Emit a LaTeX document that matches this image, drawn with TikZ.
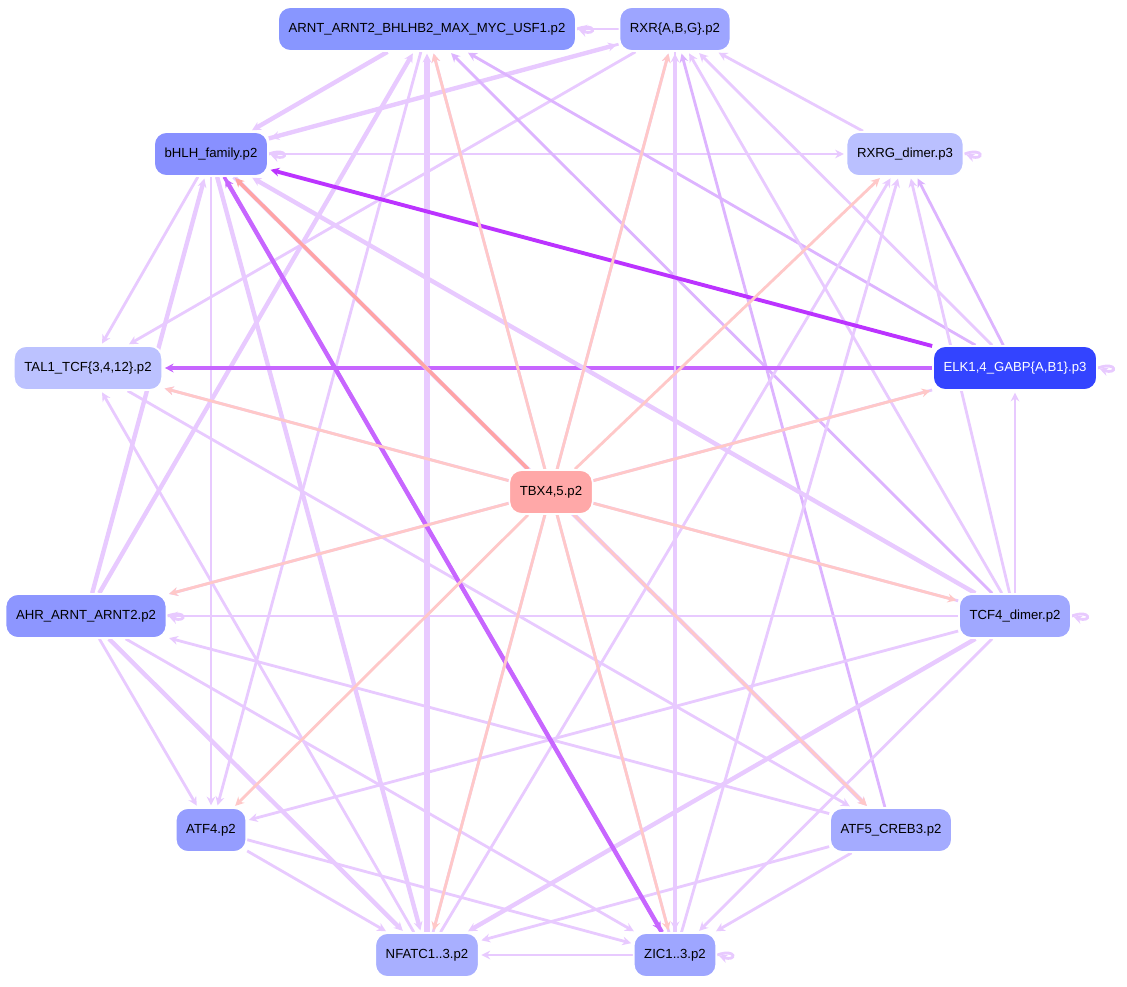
\documentclass[tikz,border=0pt]{standalone}
\usepackage{fontspec}
\setmainfont{Liberation Sans}
\usetikzlibrary{arrows.meta}
\begin{document}
\begin{tikzpicture}[x=0.02cm,y=-0.02cm,
 n/.style={rounded corners=7pt,draw=white,line width=1pt,minimum height=25pt,font=\fontsize{7.5}{9}\selectfont,inner xsep=6pt},
 e/.style={draw=#1,line width=1.6pt,-{Stealth[length=5pt,width=5pt]},shorten >=1pt},
 e/.default={lp},
 t/.style={e=pk},
 loop/.style={e=lp,looseness=6,min distance=12pt}]
\definecolor{lp}{HTML}{E8CAFF}
\definecolor{lq}{HTML}{DDB4FF}
\definecolor{pk}{HTML}{FFC8C8}
\definecolor{pd}{HTML}{FFA4A4}
\definecolor{dp}{HTML}{BB33FF}
\definecolor{mp}{HTML}{C766FF}
\useasboundingbox (0,0) rectangle (1127,987);
\node[n,fill={rgb,255:red,136;green,150;blue,255}] (arnt) at (427,29) {ARNT\_ARNT2\_BHLHB2\_MAX\_MYC\_USF1.p2};
\node[n,fill={rgb,255:red,157;green,165;blue,255}] (rxr) at (675,29) {RXR\{A,B,G\}.p2};
\node[n,fill={rgb,255:red,136;green,144;blue,255}] (bhlh) at (211,154) {bHLH\_family.p2};
\node[n,fill={rgb,255:red,186;green,192;blue,255}] (rxrg) at (905,154) {RXRG\_dimer.p3};
\node[n,fill={rgb,255:red,188;green,194;blue,255}] (tal) at (88,368) {TAL1\_TCF\{3,4,12\}.p2};
\node[n,fill={rgb,255:red,51;green,68;blue,255},text=white] (elk) at (1015,368) {ELK1,4\_GABP\{A,B1\}.p3};
\node[n,fill={rgb,255:red,255;green,168;blue,168}] (tbx) at (551,492) {TBX4,5.p2};
\node[n,fill={rgb,255:red,141;green,150;blue,255}] (ahr) at (86,616) {AHR\_ARNT\_ARNT2.p2};
\node[n,fill={rgb,255:red,160;green,168;blue,255}] (tcf) at (1015,616) {TCF4\_dimer.p2};
\node[n,fill={rgb,255:red,149;green,157;blue,255}] (atf4) at (211,830) {ATF4.p2};
\node[n,fill={rgb,255:red,164;green,171;blue,255}] (atf5) at (891,830) {ATF5\_CREB3.p2};
\node[n,fill={rgb,255:red,168;green,175;blue,255}] (nfat) at (427,955) {NFATC1..3.p2};
\node[n,fill={rgb,255:red,158;green,166;blue,255}] (zic) at (675,955) {ZIC1..3.p2};
\begin{scope}[on background layer/.style={}]
% light purple edges
\draw[e] (rxr) -- (arnt);
\draw[e,line width=2.5pt] (arnt) -- (bhlh);
\draw[e] (rxr) -- (bhlh);
\draw[e,line width=2.5pt] (bhlh) -- (rxr);
\draw[e] (bhlh) -- (rxrg);
\draw[e] (bhlh) -- (tal);
\draw[e,line width=2.5pt] (ahr) -- (bhlh);
\draw[e] (bhlh) -- (atf4);
\draw[e,line width=2.5pt] (bhlh) -- (nfat);
\draw[e] (rxr) -- (tal);
\draw[e,line width=2.5pt] (ahr) -- (arnt);
\draw[e] (arnt) -- (atf4);
\draw[e,line width=3pt] (nfat) -- (arnt);
\draw[e] (zic) -- (arnt);
\draw[e,draw=lq] (elk) -- (arnt);
\draw[e,draw=lq] (tcf) -- (arnt);
\draw[e] (nfat) -- (rxr);
\draw[e,line width=2.5pt] (zic) -- (rxr);
\draw[e,draw=lq] (atf5) -- (rxr);
\draw[e] (tcf) -- (rxr);
\draw[e] (elk) -- (rxr);
\draw[e] (rxrg) -- (rxr);
\draw[e,draw=lq] (elk) -- (rxrg);
\draw[e] (tcf) -- (rxrg);
\draw[e] (zic) -- (rxrg);
\draw[e] (nfat) -- (rxrg);
\draw[e,line width=2pt,draw=mp] (elk) -- (tal);
\draw[e] (elk) -- (ahr);
\draw[e] (tcf) -- (tal);
\draw[e,line width=2.5pt] (tcf) -- (bhlh);
\draw[e] (tcf) -- (elk);
\draw[e] (tcf) -- (ahr);
\draw[e] (tcf) -- (atf4);
\draw[e,line width=2.5pt] (tcf) -- (nfat);
\draw[e] (tcf) -- (zic);
\draw[e] (tal) -- (atf5);
\draw[e] (nfat) -- (tal);
\draw[e] (ahr) -- (atf4);
\draw[e,line width=2.5pt] (ahr) -- (nfat);
\draw[e] (ahr) -- (zic);
\draw[e] (atf5) -- (ahr);
\draw[e,line width=2.5pt] (bhlh) -- (atf5);
\draw[e] (atf4) -- (nfat);
\draw[e] (atf5) -- (nfat);
\draw[e] (zic) -- (nfat);
\draw[e] (atf4) -- (zic);
\draw[e] (atf5) -- (zic);
\draw[e] (rxr) -- (zic);
\draw[e,line width=2.5pt,draw=mp] (zic) -- (bhlh);
\draw[e,line width=2pt,draw=mp] (bhlh) -- (zic);
\draw[e,line width=2.2pt,draw=dp] (elk) -- (bhlh);
% self loops
\draw[loop] (arnt.east) to[out=20,in=-20] (arnt.east);
\draw[loop] (bhlh.east) to[out=20,in=-20] (bhlh.east);
\draw[loop] (rxrg.east) to[out=20,in=-20] (rxrg.east);
\draw[loop] (elk.east) to[out=20,in=-20] (elk.east);
\draw[loop] (ahr.east) to[out=20,in=-20] (ahr.east);
\draw[loop] (tcf.east) to[out=20,in=-20] (tcf.east);
\draw[loop] (zic.east) to[out=20,in=-20] (zic.east);
% TBX edges
\draw[t] (tbx) -- (tal);
\draw[t,draw=pd,line width=2pt] (tbx) -- (bhlh);
\draw[t] (tbx) -- (arnt);
\draw[t] (tbx) -- (rxr);
\draw[t] (tbx) -- (rxrg);
\draw[t] (tbx) -- (elk);
\draw[t] (tbx) -- (tcf);
\draw[t] (tbx) -- (atf5);
\draw[t] (tbx) -- (zic);
\draw[t] (tbx) -- (nfat);
\draw[t] (tbx) -- (atf4);
\draw[t] (tbx) -- (ahr);
\end{scope}
% redraw nodes on top
\foreach \a in {arnt,rxr,bhlh,rxrg,tal,elk,tbx,ahr,tcf,atf4,atf5,nfat,zic}{}
\node[n,fill={rgb,255:red,136;green,150;blue,255}] at (427,29) {ARNT\_ARNT2\_BHLHB2\_MAX\_MYC\_USF1.p2};
\node[n,fill={rgb,255:red,157;green,165;blue,255}] at (675,29) {RXR\{A,B,G\}.p2};
\node[n,fill={rgb,255:red,136;green,144;blue,255}] at (211,154) {bHLH\_family.p2};
\node[n,fill={rgb,255:red,186;green,192;blue,255}] at (905,154) {RXRG\_dimer.p3};
\node[n,fill={rgb,255:red,188;green,194;blue,255}] at (88,368) {TAL1\_TCF\{3,4,12\}.p2};
\node[n,fill={rgb,255:red,51;green,68;blue,255},text=white] at (1015,368) {ELK1,4\_GABP\{A,B1\}.p3};
\node[n,fill={rgb,255:red,255;green,168;blue,168}] at (551,492) {TBX4,5.p2};
\node[n,fill={rgb,255:red,141;green,150;blue,255}] at (86,616) {AHR\_ARNT\_ARNT2.p2};
\node[n,fill={rgb,255:red,160;green,168;blue,255}] at (1015,616) {TCF4\_dimer.p2};
\node[n,fill={rgb,255:red,149;green,157;blue,255}] at (211,830) {ATF4.p2};
\node[n,fill={rgb,255:red,164;green,171;blue,255}] at (891,830) {ATF5\_CREB3.p2};
\node[n,fill={rgb,255:red,168;green,175;blue,255}] at (427,955) {NFATC1..3.p2};
\node[n,fill={rgb,255:red,158;green,166;blue,255}] at (675,955) {ZIC1..3.p2};
\end{tikzpicture}
\end{document}
